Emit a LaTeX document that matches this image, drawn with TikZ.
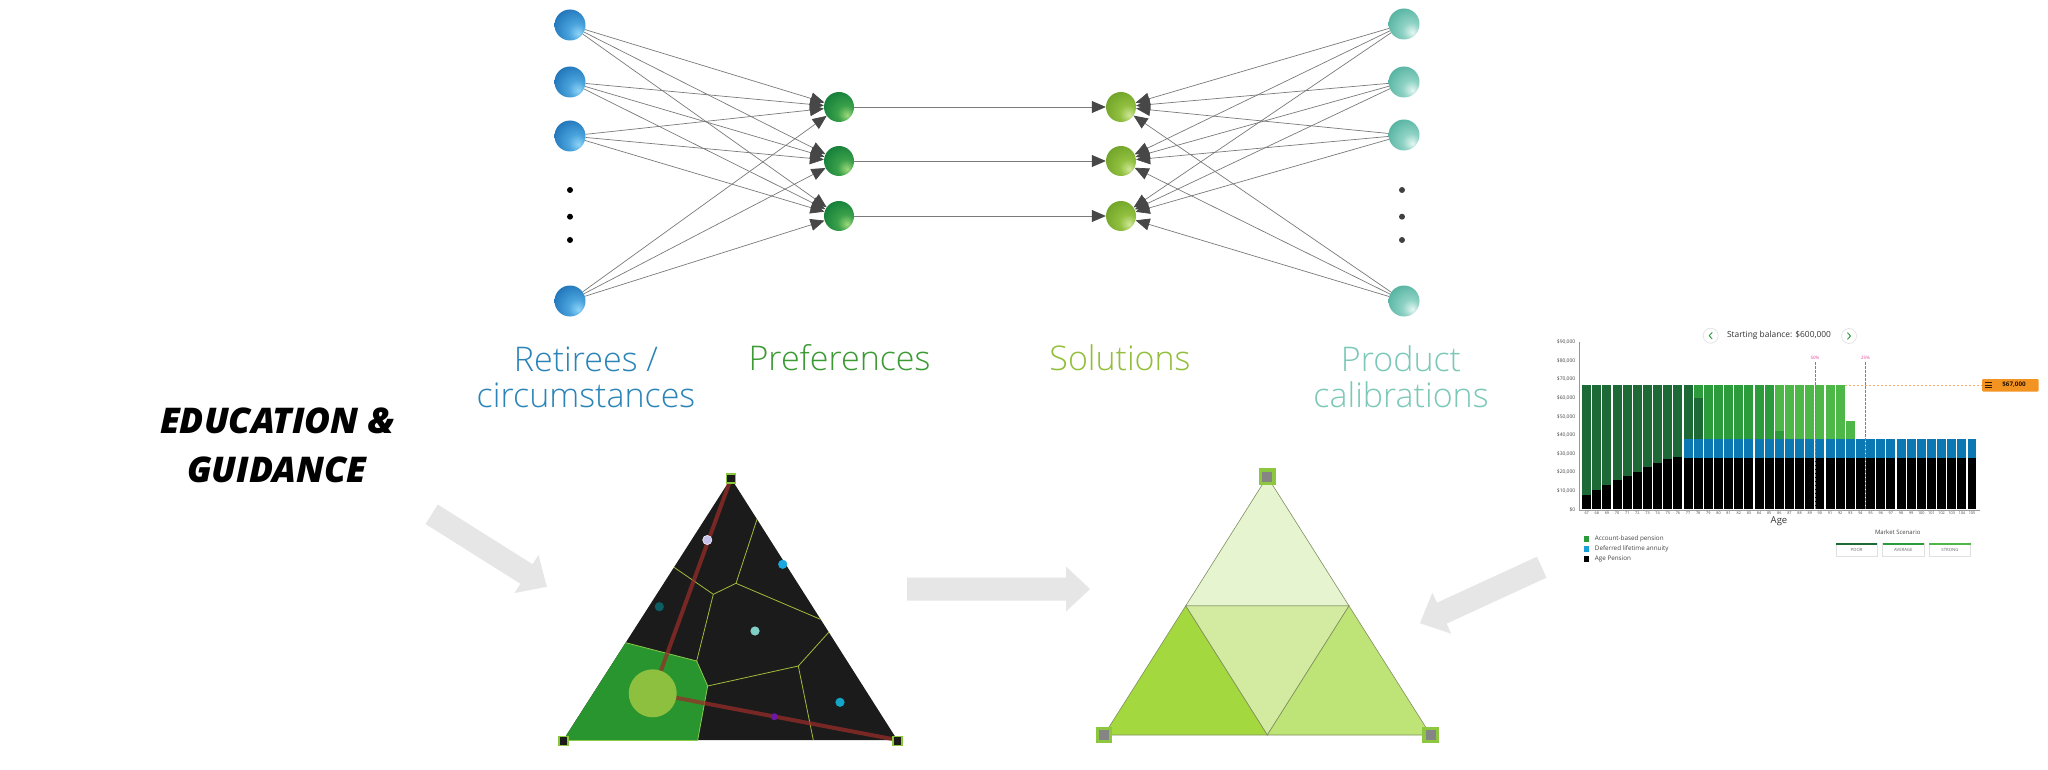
\documentclass[tikz,border=0pt]{standalone}
\usepackage{fontspec}
\usetikzlibrary{arrows.meta}
\setmainfont{Open Sans}
\IfFontExistsTF{Open Sans Light}{\newfontfamily\lightfont{Open Sans Light}}{%
 \IfFontExistsTF{OpenSans-Light.otf}{\newfontfamily\lightfont{OpenSans-Light.otf}}{%
  \IfFontExistsTF{OpenSans-Light.ttf}{\newfontfamily\lightfont{OpenSans-Light.ttf}}{%
   \newfontfamily\lightfont{Open Sans}}}}
\IfFontExistsTF{Open Sans ExtraBold Italic}{\newfontfamily\edfont{Open Sans ExtraBold Italic}}{%
 \IfFontExistsTF{OpenSans-ExtraBoldItalic.otf}{\newfontfamily\edfont{OpenSans-ExtraBoldItalic.otf}}{%
  \IfFontExistsTF{OpenSans-ExtraBoldItalic.ttf}{\newfontfamily\edfont{OpenSans-ExtraBoldItalic.ttf}}{%
   \IfFontExistsTF{Open Sans Extrabold Italic}{\newfontfamily\edfont{Open Sans Extrabold Italic}}{%
    \newfontfamily\edfontb{Open Sans}\def\edfont{\edfontb\bfseries\itshape}}}}}

\definecolor{bb0}{HTML}{8FD4F7}\definecolor{bb1}{HTML}{4AA3DC}\definecolor{bb2}{HTML}{2277BB}\definecolor{bb3}{HTML}{0E5591}
\definecolor{gb0}{HTML}{9ED97A}\definecolor{gb1}{HTML}{3AA04A}\definecolor{gb2}{HTML}{15803A}\definecolor{gb3}{HTML}{0A6028}
\definecolor{sb0}{HTML}{CFE89A}\definecolor{sb1}{HTML}{92C040}\definecolor{sb2}{HTML}{72A52A}\definecolor{sb3}{HTML}{557F18}
\definecolor{tb0}{HTML}{E6F7F3}\definecolor{tb1}{HTML}{8ED2C4}\definecolor{tb2}{HTML}{58B5A3}\definecolor{tb3}{HTML}{3A9585}
\pgfdeclareradialshading{blueball}{\pgfpoint{14bp}{-14bp}}{color(0bp)=(bb0);color(14bp)=(bb1);color(35bp)=(bb2);color(70bp)=(bb3)}
\pgfdeclareradialshading{greenball}{\pgfpoint{14bp}{-14bp}}{color(0bp)=(gb0);color(14bp)=(gb1);color(35bp)=(gb2);color(70bp)=(gb3)}
\pgfdeclareradialshading{solball}{\pgfpoint{14bp}{-14bp}}{color(0bp)=(sb0);color(14bp)=(sb1);color(35bp)=(sb2);color(70bp)=(sb3)}
\pgfdeclareradialshading{tealball}{\pgfpoint{14bp}{-14bp}}{color(0bp)=(tb0);color(14bp)=(tb1);color(35bp)=(tb2);color(70bp)=(tb3)}

\definecolor{edgegray}{HTML}{7A7A7A}
\definecolor{arrowgray}{HTML}{474747}
\definecolor{retblue}{HTML}{2A84B8}
\definecolor{prefgreen}{HTML}{3B9A33}
\definecolor{solgreen}{HTML}{92BE3A}
\definecolor{prodteal}{HTML}{7CC8B8}
\definecolor{blockgray}{HTML}{E6E6E6}
\definecolor{vordark}{HTML}{1B1B1B}
\definecolor{vorgreen}{HTML}{28952F}
\definecolor{vorline}{HTML}{A2BC3A}
\definecolor{vorcell}{HTML}{8CC84A}
\definecolor{vorred}{RGB}{155,45,40}
\definecolor{bigdot}{HTML}{8CC03E}
\definecolor{dotlav}{HTML}{C5C3EC}
\definecolor{dotcyan}{HTML}{1AA8E0}
\definecolor{dotdteal}{HTML}{0C5E62}
\definecolor{dotlteal}{HTML}{7FCFC6}
\definecolor{dotcyan2}{HTML}{12A5C8}
\definecolor{dotpurple}{HTML}{6A1AA0}
\definecolor{sqgreen}{HTML}{8DC63F}
\definecolor{sqgray}{HTML}{858585}
\definecolor{trtop}{HTML}{E6F4CF}
\definecolor{trmid}{HTML}{D3EAA1}
\definecolor{trleft}{HTML}{A3D93E}
\definecolor{trright}{HTML}{BEE377}
\definecolor{trline}{HTML}{7F8F5F}
\definecolor{darkg}{HTML}{1E6A36}
\definecolor{medg}{HTML}{2B9B3B}
\definecolor{lightg}{HTML}{4DB848}
\definecolor{annblue}{HTML}{0B77B3}
\definecolor{legblue}{HTML}{1A9FD8}
\definecolor{pinkline}{HTML}{E8459B}
\definecolor{orangetag}{HTML}{F39422}
\definecolor{orangeline}{HTML}{F5B070}
\definecolor{charttext}{HTML}{444444}

\newcommand\barseg[4]{\fill[#4] ({1581.6+10.14*#1+0.6},{509.3-1.856*#2}) rectangle ({1581.6+10.14*#1+9.54},{509.3-1.856*#3});}
\newcommand\blockarr[4]{\begin{scope}[shift={(#1,#2)},rotate=#3]
\fill[blockgray] (0,-11.5) -- ({#4-24},-11.5) -- ({#4-24},-22.5) -- (#4,0) -- ({#4-24},22.5) -- ({#4-24},11.5) -- (0,11.5) -- cycle;
\end{scope}}

\begin{document}
\begin{tikzpicture}[x=1pt,y=-1pt,
  bnode/.style={circle,minimum size=31pt,inner sep=0pt,shade,shading=blueball},
  gnode/.style={circle,minimum size=30pt,inner sep=0pt,shade,shading=greenball},
  snode/.style={circle,minimum size=30pt,inner sep=0pt,shade,shading=solball},
  tnode/.style={circle,minimum size=31pt,inner sep=0pt,shade,shading=tealball},
  netlink/.style={draw=edgegray,line width=0.7pt,-{Triangle[length=14pt,width=12pt,color=arrowgray]}},
  lbl/.style={font=\lightfont\fontsize{34}{36}\selectfont,align=center,inner sep=0pt},
  vsq/.style={fill=vordark,draw=sqgreen,line width=1.5pt,minimum size=9pt,inner sep=0pt},
  gsq/.style={fill=sqgray,draw=sqgreen,line width=3.3pt,minimum size=13.5pt,inner sep=0pt},
  ylab/.style={anchor=east,font=\fontsize{5}{6}\selectfont,text=charttext,inner sep=0pt},
  xlab/.style={font=\fontsize{3.8}{4}\selectfont,text=charttext,inner sep=0pt},
  legtxt/.style={anchor=west,font=\fontsize{6.3}{7}\selectfont,text=charttext,inner sep=0pt},
  btn/.style={fill=white,draw=black!12,line width=0.5pt,minimum width=41.3pt,minimum height=13.4pt,inner sep=0pt,font=\fontsize{4.3}{5}\selectfont,text=black!60}
]
\useasboundingbox (0,0) rectangle (2048,770);
\fill[white] (0,0) rectangle (2048,770);

% ---------- network ----------
\foreach \n/\y in {1/25,2/82,3/136,4/301} \node[bnode] (b\n) at (570,\y) {};
\foreach \n/\y in {1/107,2/161,3/216} \node[gnode] (g\n) at (839,\y) {};
\foreach \n/\y in {1/107,2/161,3/216} \node[snode] (s\n) at (1121,\y) {};
\foreach \n/\y in {1/24,2/82,3/135,4/301} \node[tnode] (t\n) at (1404,\y) {};
\foreach \n/\y in {1/190,2/216.7,3/240} {
  \fill[black] (570,\y) circle (3);
  \fill[black!75] (1402,\y) circle (3);
}
\foreach \i in {1,...,4} \foreach \j in {1,2,3} \draw[netlink] (b\i) -- (g\j);
\foreach \j in {1,2,3} \draw[netlink] (g\j) -- (s\j);
\foreach \i in {1,...,4} \foreach \j in {1,2,3} \draw[netlink] (t\i) -- (s\j);

% ---------- labels ----------
\node[lbl,text=retblue] (lret) at (586,377) {Retirees /\\circumstances};
\node[lbl,text=prefgreen] (lpref) at (839.5,358) {Preferences};
\node[lbl,text=solgreen] (lsol) at (1120,358) {Solutions};
\node[lbl,text=prodteal] (lprod) at (1401,377) {Product\\calibrations};
\node[font=\edfont\fontsize{35.4}{49}\selectfont,align=center,inner sep=0pt] (edu) at (277,445) {EDUCATION \&\\GUIDANCE};

% ---------- block arrows ----------
\blockarr{431.7}{514.3}{-32.2}{136}
\blockarr{907}{589}{0}{183}
\blockarr{1541.7}{567.2}{-155.3}{134}

% ---------- left (Voronoi) triangle ----------
\fill[vordark] (731,478.3) -- (563.3,740) -- (897.3,740) -- cycle;
\fill[vorgreen] (625.7,642.7) -- (696.7,661) -- (707.7,686) -- (697.7,740) -- (563.3,740) -- cycle;
\draw[vorcell,line width=0.8pt] (625.7,642.7) -- (696.7,661) -- (707.7,686) -- (697.7,740);
\draw[vorcell,line width=0.8pt] (563.3,740) -- (697.7,740);
\begin{scope}[vorline,line width=0.8pt]
\draw (674,567.3) -- (713.3,594.3) -- (736,583.3) -- (757,519.3);
\draw (736,583.3) -- (820.4,619.3);
\draw (713.3,594.3) -- (696.7,661);
\draw (707.7,686) -- (798.3,666) -- (828.7,632.3);
\draw (798.3,666) -- (813.3,740);
\end{scope}
\draw[vorred,opacity=0.72,line width=4pt] (731,478.3) -- (652.7,693.3);
\draw[vorred,opacity=0.72,line width=4pt] (652.7,693.3) -- (897.3,740);
\fill[bigdot] (652.7,693.3) circle (24);
\filldraw[fill=dotlav,draw=white!80!dotlav,line width=0.6pt] (707.3,540) circle (4.6);
\fill[dotcyan] (782.7,564.3) circle (4.6);
\fill[dotdteal] (659.3,606.7) circle (4.6);
\fill[dotlteal] (755,631) circle (4.6);
\fill[dotcyan2] (840,702.3) circle (4.6);
\fill[dotpurple] (774.3,716.7) circle (3.5);
\node[vsq] (vt) at (731,478.3) {};
\node[vsq] (vl) at (563.3,741) {};
\node[vsq] (vr) at (897.3,741) {};

% ---------- right (solution) triangle ----------
\begin{scope}[draw=trline,line width=0.6pt]
\filldraw[fill=trtop] (1267.3,476.7) -- (1185.7,605.9) -- (1349,605.9) -- cycle;
\filldraw[fill=trmid] (1185.7,605.9) -- (1349,605.9) -- (1267.3,735) -- cycle;
\filldraw[fill=trleft] (1104,735) -- (1185.7,605.9) -- (1267.3,735) -- cycle;
\filldraw[fill=trright] (1349,605.9) -- (1430.7,735) -- (1267.3,735) -- cycle;
\end{scope}
\node[gsq] (st) at (1267.3,476.7) {};
\node[gsq] (sl) at (1104,735) {};
\node[gsq] (sr) at (1430.7,735) {};

% ---------- chart ----------
\foreach \i/\v in {0/7.5,1/10.4,2/12.9,3/15.6,4/17.9,5/20.3,6/22.6,7/24.9,8/27.1,9/28.3} {
  \barseg{\i}{0}{\v}{black}
  \barseg{\i}{\v}{67}{darkg}
}
\foreach \i in {10,...,38} {
  \barseg{\i}{0}{27.6}{black}
  \barseg{\i}{27.6}{37.9}{annblue}
}
\barseg{10}{37.9}{67}{darkg}
\barseg{11}{37.9}{60.1}{darkg}
\barseg{11}{60.1}{67}{medg}
\foreach \i in {12,...,18} {\barseg{\i}{37.9}{67}{medg}}
\barseg{19}{37.9}{42.2}{medg}
\barseg{19}{42.2}{67}{lightg}
\foreach \i in {20,...,25} {\barseg{\i}{37.9}{67}{lightg}}
\barseg{26}{37.9}{47.4}{lightg}
\draw[black!40,line width=0.6pt] (1579,342) -- (1579,510) -- (1980,510);
\foreach \k/\t in {0/\$0,1/\$10{,}000,2/\$20{,}000,3/\$30{,}000,4/\$40{,}000,5/\$50{,}000,6/\$60{,}000,7/\$70{,}000,8/\$80{,}000,9/\$90{,}000}
  \node[ylab] at (1575.5,{509.3-18.56*\k}) {\t};
\foreach \i in {0,...,38} {
  \pgfmathtruncatemacro\age{67+\i}
  \node[xlab] at ({1581.6+10.14*\i+5.07},513.6) {\age};
}
\node[font=\fontsize{9.5}{10}\selectfont,text=black!80,inner sep=0pt] (agel) at (1779,521.5) {Age};
\draw[orangeline,line width=0.6pt,dash pattern=on 2pt off 2pt] (1845,385) -- (1982,385);
\draw[pinkline,line width=0.8pt,dash pattern=on 2.5pt off 1.5pt] (1815,362) -- (1815,509.3);
\draw[pinkline,line width=0.8pt,dash pattern=on 2.5pt off 1.5pt] (1865.5,362) -- (1865.5,509.3);
\node[font=\fontsize{4.5}{5}\selectfont,text=pinkline,inner sep=0pt] (p50) at (1815,357.5) {50\%};
\node[font=\fontsize{4.5}{5}\selectfont,text=pinkline,inner sep=0pt] (p25) at (1865.5,357.5) {25\%};
\fill[orangetag,rounded corners=1pt] (1982,379) rectangle (2038.5,391.5);
\foreach \yy in {382.3,385,387.7} \draw[black!80!orange,line width=0.8pt] (1985,\yy) -- (1992,\yy);
\node[font=\bfseries\fontsize{6.3}{7}\selectfont,text=black!85!orange,inner sep=0pt] (tagt) at (2014,385) {\$67,000};
\node[font=\fontsize{8.4}{9}\selectfont,text=black!80,inner sep=0pt] (title) at (1779,335.5) {Starting balance: \$600,000};
\filldraw[fill=white,draw=black!10,line width=0.8pt] (1710.7,335.7) circle (7.5);
\filldraw[fill=white,draw=black!10,line width=0.8pt] (1849,336) circle (7.5);
\draw[medg,line width=0.9pt] (1712.2,332.4) -- (1709.2,335.7) -- (1712.2,339);
\draw[medg,line width=0.9pt] (1847.5,332.7) -- (1850.5,336) -- (1847.5,339.3);
\fill[medg] (1583.6,536.2) rectangle (1589,541.6);
\fill[legblue] (1583.6,546.3) rectangle (1589,551.7);
\fill[black] (1583.6,556.3) rectangle (1589,561.7);
\node[legtxt] (leg1) at (1594.7,538.9) {Account-based pension};
\node[legtxt] (leg2) at (1594.7,549) {Deferred lifetime annuity};
\node[legtxt] (leg3) at (1594.7,559) {Age Pension};
\node[font=\fontsize{6}{7}\selectfont,text=charttext,inner sep=0pt] (msc) at (1897.7,532.3) {Market Scenario};
\node[btn] (bpoor) at (1856.6,550) {POOR};
\node[btn] (bavg) at (1903.3,550) {AVERAGE};
\node[btn] (bstr) at (1950,550) {STRONG};
\fill[darkg] (1836,543.3) rectangle (1877.3,544.8);
\fill[medg] (1882.7,543.3) rectangle (1924,544.8);
\fill[lightg] (1929.3,543.3) rectangle (1970.7,544.8);
\end{tikzpicture}
\end{document}
